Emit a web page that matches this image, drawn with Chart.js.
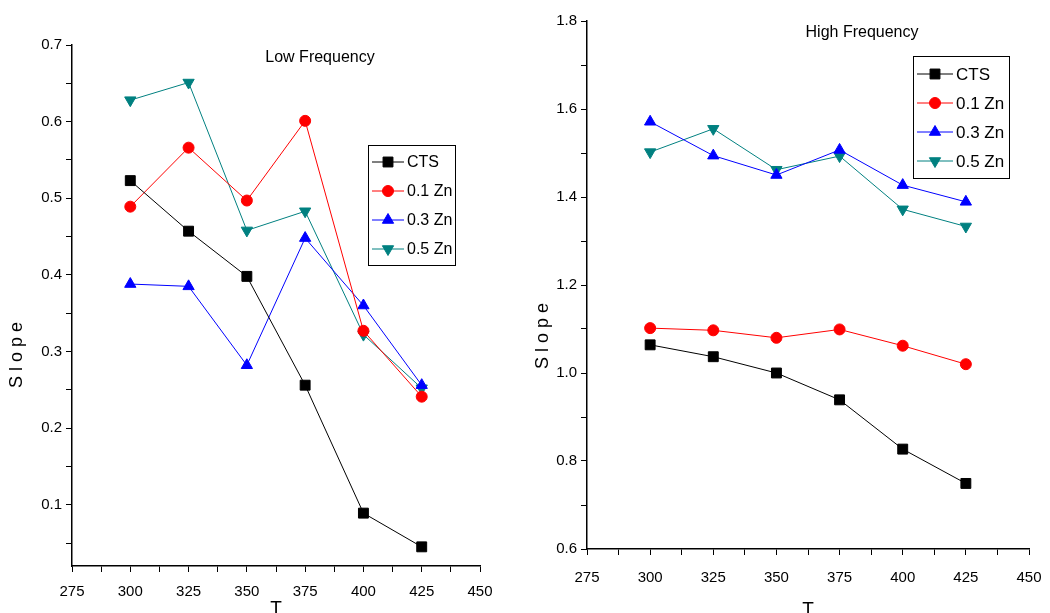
<!DOCTYPE html>
<html>
<head>
<meta charset="utf-8">
<script src="https://cdn.jsdelivr.net/npm/chart.js@4/dist/chart.umd.min.js"></script>
<style>
  body { margin: 0; background: #fff; width: 1050px; height: 613px; overflow: hidden; position: relative; }
  .chart-box { position: absolute; top: 0; height: 613px; }
  #low-box { left: 0; width: 500px; }
  #high-box { left: 520px; width: 530px; }
</style>
</head>
<body>
<div class="chart-box" id="low-box"><canvas id="low-chart" width="500" height="613"></canvas></div>
<div class="chart-box" id="high-box"><canvas id="high-chart" width="530" height="613"></canvas></div>
<script>
// data
const temps = [300, 325, 350, 375, 400, 425];
const seriesNames = ["CTS", "0.1 Zn", "0.3 Zn", "0.5 Zn"];

// Low Frequency
const lowCTS = [0.523, 0.457, 0.398, 0.256, 0.089, 0.045];
const lowZn01 = [0.489, 0.566, 0.497, 0.601, 0.327, 0.241];
const lowZn03 = [0.388, 0.385, 0.282, 0.448, 0.360, 0.256];
const lowZn05 = [0.628, 0.651, 0.458, 0.483, 0.322, 0.252];

// High Frequency
const highCTS = [1.064, 1.037, 1.000, 0.939, 0.827, 0.749];
const highZn01 = [1.102, 1.097, 1.080, 1.099, 1.062, 1.020];
const highZn03 = [1.571, 1.494, 1.450, 1.507, 1.427, 1.389];
const highZn05 = [1.502, 1.555, 1.462, 1.493, 1.372, 1.333];

// tick labels
const xTickLabels = [275, 300, 325, 350, 375, 400, 425, 450];
const lowYTickLabels = [0.1, 0.2, 0.3, 0.4, 0.5, 0.6, 0.7];
const highYTickLabels = [0.6, 0.8, 1.0, 1.2, 1.4, 1.6, 1.8];

const FONT = '"Liberation Sans Narrow", "Arial Narrow", "Liberation Sans", Arial, sans-serif';

const seriesStyle = [
  { color: "#000000", pointStyle: "rect", radius: 7, rotation: 0 },
  { color: "#ff0000", pointStyle: "circle", radius: 5.5, rotation: 0 },
  { color: "#0000ff", pointStyle: "triangle", radius: 6.5, rotation: 0 },
  { color: "#008080", pointStyle: "triangle", radius: 6.5, rotation: 180 },
];

function makeDatasets(allValues) {
  return allValues.map((values, i) => ({
    label: seriesNames[i],
    data: temps.map((t, j) => ({ x: t, y: values[j] })),
    borderColor: seriesStyle[i].color,
    backgroundColor: seriesStyle[i].color,
    pointBackgroundColor: seriesStyle[i].color,
    pointBorderColor: seriesStyle[i].color,
    pointStyle: seriesStyle[i].pointStyle,
    pointRadius: seriesStyle[i].radius,
    pointRotation: seriesStyle[i].rotation,
    pointBorderWidth: 1,
    borderWidth: 1,
    tension: 0,
  }));
}

// major + minor ticks (minor half way between labels)
function withMinor(labels) {
  const out = [];
  labels.forEach((v, i) => {
    out.push(v);
    if (i < labels.length - 1) out.push((v + labels[i + 1]) / 2);
  });
  return out;
}

function isMajor(v, labels) {
  return labels.some((l) => Math.abs(l - v) < 1e-6);
}

// legend box, inner title and y title drawn on the canvas
const boxLegend = {
  id: "boxLegend",
  afterDraw(chart, args, opts) {
    const ctx = chart.ctx;
    ctx.save();
    ctx.fillStyle = "#000";
    ctx.textAlign = "center";
    ctx.textBaseline = "middle";

    // title
    ctx.font = "16px " + FONT;
    ctx.fillText(opts.title, opts.titleX, opts.titleY);

    // y title
    ctx.save();
    ctx.translate(opts.slopeX, opts.slopeY);
    ctx.rotate(-Math.PI / 2);
    ctx.font = "18px " + FONT;
    ctx.fillText("S l o p e", 0, 0);
    ctx.restore();

    // box
    ctx.strokeStyle = "#000";
    ctx.lineWidth = 1;
    ctx.strokeRect(opts.x + 0.5, opts.y + 0.5, opts.w, opts.h);
    ctx.font = opts.fontSize + "px " + FONT;
    ctx.textAlign = "left";
    chart.data.datasets.forEach((ds, i) => {
      const y = opts.y + opts.rowTop + i * opts.rowGap;
      ctx.strokeStyle = ds.borderColor;
      ctx.lineWidth = 1;
      ctx.beginPath();
      ctx.moveTo(opts.x + 4, y);
      ctx.lineTo(opts.x + opts.lineLen, y);
      ctx.stroke();
      ctx.fillStyle = ds.pointBackgroundColor;
      Chart.helpers.drawPoint(ctx, {
        pointStyle: ds.pointStyle,
        radius: ds.pointRadius,
        rotation: ds.pointRotation,
        borderWidth: 1,
      }, opts.x + 4 + (opts.lineLen - 4) / 2, y);
      ctx.fillStyle = "#000";
      ctx.fillText(ds.label, opts.x + opts.lineLen + 3, y + 1);
    });
    ctx.restore();
  },
};

function makeChart(canvasId, allValues, cfg) {
  return new Chart(document.getElementById(canvasId), {
    type: "line",
    data: { datasets: makeDatasets(allValues) },
    plugins: [boxLegend],
    options: {
      responsive: false,
      animation: false,
      layout: { padding: { top: cfg.top, right: cfg.right, left: 0, bottom: 0 } },
      plugins: {
        legend: { display: false },
        tooltip: { enabled: false },
        boxLegend: cfg.legend,
      },
      scales: {
        x: {
          type: "linear",
          min: 275,
          max: 450,
          afterBuildTicks: (axis) => {
            axis.ticks = withMinor(xTickLabels).map((v) => ({ value: v }));
          },
          afterFit: (scale) => {
            scale.height = cfg.xHeight;
            scale.paddingLeft = 0;
            scale.paddingRight = 0;
          },
          border: { display: true, color: "#000", width: 1.5 },
          grid: { drawOnChartArea: false, drawTicks: true, tickLength: 6, color: "#000", tickColor: "#000" },
          ticks: {
            autoSkip: false,
            maxRotation: 0,
            color: "#000",
            padding: cfg.xTickPad,
            font: { family: FONT, size: 15 },
            callback: (v) => (isMajor(v, xTickLabels) ? String(v) : ""),
          },
          title: {
            display: true,
            text: "T",
            color: "#000",
            font: { family: FONT, size: 19, lineHeight: 1.2 },
            padding: { top: 0, bottom: cfg.tTitlePad },
          },
        },
        y: {
          type: "linear",
          min: cfg.yMin,
          max: cfg.yMax,
          afterBuildTicks: (axis) => {
            const ticks = withMinor(cfg.yLabels);
            if (cfg.yMin < ticks[0]) ticks.unshift((cfg.yLabels[0] - (cfg.yLabels[1] - cfg.yLabels[0]) / 2));
            axis.ticks = ticks.filter((v) => v >= cfg.yMin - 1e-9).map((v) => ({ value: v }));
          },
          afterFit: (scale) => {
            scale.width = cfg.yWidth;
            scale.paddingTop = 0;
            scale.paddingBottom = 0;
          },
          border: { display: true, color: "#000", width: 1.5 },
          grid: { drawOnChartArea: false, drawTicks: true, tickLength: 6, color: "#000", tickColor: "#000" },
          ticks: {
            autoSkip: false,
            color: "#000",
            padding: 4,
            font: { family: FONT, size: 15 },
            callback: (v) => (isMajor(v, cfg.yLabels) ? v.toFixed(1) : ""),
          },
        },
      },
    },
  });
}

makeChart("low-chart", [lowCTS, lowZn01, lowZn03, lowZn05], {
  top: 45, right: 20, xHeight: 47, yWidth: 72,
  yMin: 0.02, yMax: 0.7, yLabels: lowYTickLabels,
  xTickPad: 11, tTitlePad: -7,
  legend: {
    title: "Low Frequency", titleX: 320, titleY: 58,
    slopeX: 17, slopeY: 355,
    x: 368, y: 145, w: 87, h: 120, rowTop: 17, rowGap: 29, lineLen: 36, fontSize: 16,
  },
});

makeChart("high-chart", [highCTS, highZn01, highZn03, highZn05], {
  top: 21, right: 21, xHeight: 64, yWidth: 67,
  yMin: 0.6, yMax: 1.8, yLabels: highYTickLabels,
  xTickPad: 14, tTitlePad: -8,
  legend: {
    title: "High Frequency", titleX: 342, titleY: 33,
    slopeX: 23, slopeY: 336,
    x: 393, y: 56, w: 96, h: 122, rowTop: 18, rowGap: 29, lineLen: 40, fontSize: 17,
  },
});
</script>
</body>
</html>
